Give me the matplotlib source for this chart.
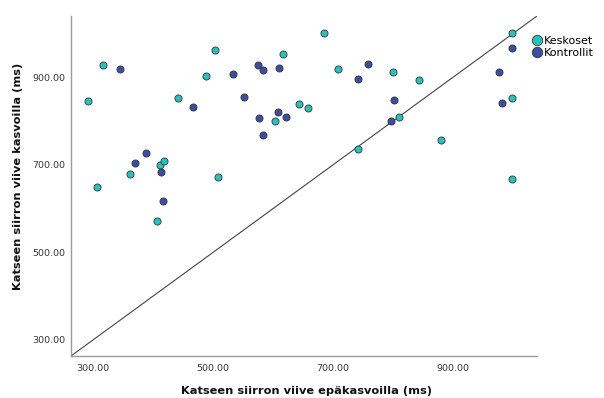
import matplotlib
matplotlib.use("Agg")
import matplotlib.pyplot as plt
from matplotlib.lines import Line2D

# Data (ms)
kesk_x = [291, 316, 441, 503, 488, 616, 603, 643, 658, 685, 708, 800, 844, 810,
          741, 880, 999, 999, 999, 361, 412, 418, 508, 306, 407]
kesk_y = [846, 927, 853, 963, 902, 953, 800, 838, 830, 1002, 919, 913, 894, 810,
          735, 757, 1002, 853, 667, 678, 699, 708, 671, 649, 571]
kontr_x = [345, 466, 533, 552, 575, 583, 609, 608, 577, 622, 583, 388, 370, 413,
           416, 759, 741, 801, 797, 999, 977, 981]
kontr_y = [919, 831, 908, 854, 927, 916, 921, 820, 807, 809, 767, 728, 703, 684,
           617, 930, 897, 847, 799, 966, 911, 841]
group_labels = ["Keskoset", "Kontrollit"]
x_ticks = [300, 500, 700, 900]
y_ticks = [300, 500, 700, 900]
axis_min, axis_max = 263, 1040

c_kesk = "#27C2BB"
c_kontr = "#3A4EA3"

fig = plt.figure(figsize=(6.04, 3.98), dpi=100)
ax = fig.add_axes([71/604, 1-356/398, (537-71)/604, (356-16)/398])

ax.axline((axis_min, axis_min), slope=1, color="#444444", lw=0.8, zorder=1)
ax.scatter(kesk_x, kesk_y, s=26, color=c_kesk, edgecolor="#333333", linewidth=0.6, zorder=3)
ax.scatter(kontr_x, kontr_y, s=26, color=c_kontr, edgecolor="#333333", linewidth=0.6, zorder=3)

ax.set_xlim(axis_min, axis_max)
ax.set_ylim(axis_min, axis_max)
ax.set_xticks(x_ticks)
ax.set_yticks(y_ticks)
ax.set_xticklabels([f"{v:.2f}" for v in x_ticks])
ax.set_yticklabels([f"{v:.2f}" for v in y_ticks])
ax.tick_params(length=0, labelsize=6.8, labelcolor="#333333")
ax.tick_params(axis="x", pad=6)
ax.tick_params(axis="y", pad=4)
for s in ["top", "right"]:
    ax.spines[s].set_visible(False)
for s in ["left", "bottom"]:
    ax.spines[s].set_color("#999999")
    ax.spines[s].set_linewidth(1.0)

ax.set_xlabel("Katseen siirron viive epäkasvoilla (ms)", fontsize=8.2, fontweight="bold",
              color="#111111", va="center")
ax.set_ylabel("Katseen siirron viive kasvoilla (ms)", fontsize=8.2, fontweight="bold",
              color="#111111", va="center")
ax.xaxis.set_label_coords(0.506, -0.103)
ax.yaxis.set_label_coords(-0.1137, 0.527)

handles = [Line2D([], [], marker="o", ls="", markersize=7.5, markerfacecolor=c,
                  markeredgecolor="#333333", markeredgewidth=0.6)
           for c in (c_kesk, c_kontr)]
fig.legend(handles, group_labels, loc="upper left", bbox_to_anchor=(533/604, 1-36/398),
           frameon=False, fontsize=8, handlelength=0.8, handletextpad=0.2,
           labelspacing=0.15, borderaxespad=0, borderpad=0)

fig.savefig("out.png", dpi=100)
